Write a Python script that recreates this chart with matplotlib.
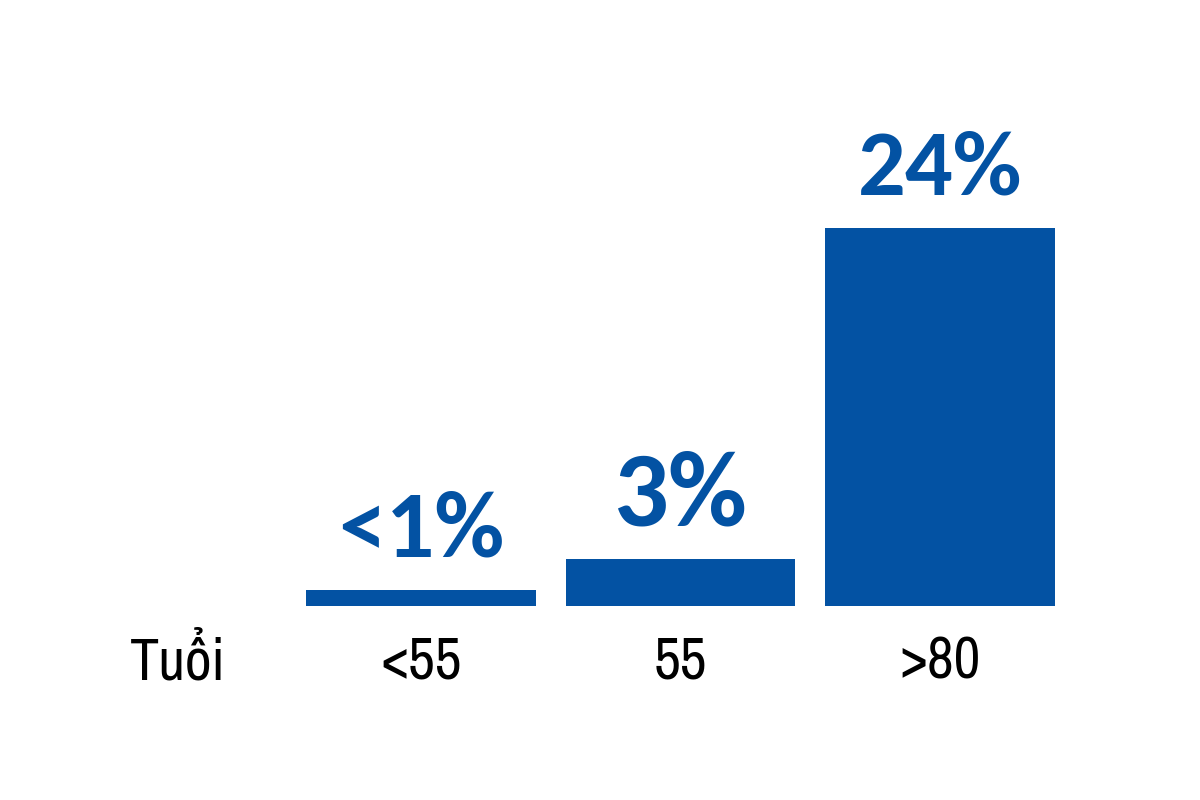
import matplotlib.pyplot as plt

categories = ["<55", "55", ">80"]
values = [1, 3, 24]
value_labels = ["<1%", "3%", "24%"]
label_sizes = [69, 78, 68]
axis_title = "Tuổi"

blue = "#0352A3"
tick_font = ["Archivo Narrow", "DejaVu Sans"]

fig = plt.figure(figsize=(12, 8), dpi=100)
ax = fig.add_axes([291 / 1200, 1 - 606 / 800, 779 / 1200, 472.5 / 800])

x = range(len(categories))
bars = ax.bar(x, values, width=0.885, color=blue)

for rect, lab, fs in zip(bars, value_labels, label_sizes):
    ax.annotate(lab, (rect.get_x() + rect.get_width() / 2, rect.get_height()),
                xytext=(0, 24), textcoords="offset points",
                ha="center", va="baseline", color=blue, fontsize=fs,
                family=["Carlito", "DejaVu Sans"], fontweight="bold")

ax.set_xlim(-0.5, 2.5)
ax.set_ylim(0, 30)
ax.set_xticks(list(x))
ax.set_xticklabels(categories, fontsize=42, family=tick_font)
ax.tick_params(axis="x", length=0, pad=21)
ax.set_yticks([])
for s in ax.spines.values():
    s.set_visible(False)

fig.text(130 / 1200, 1 - 680 / 800, axis_title, fontsize=42, va="baseline",
         ha="left", family=tick_font)

fig.savefig("out.png", dpi=100, facecolor="white")
